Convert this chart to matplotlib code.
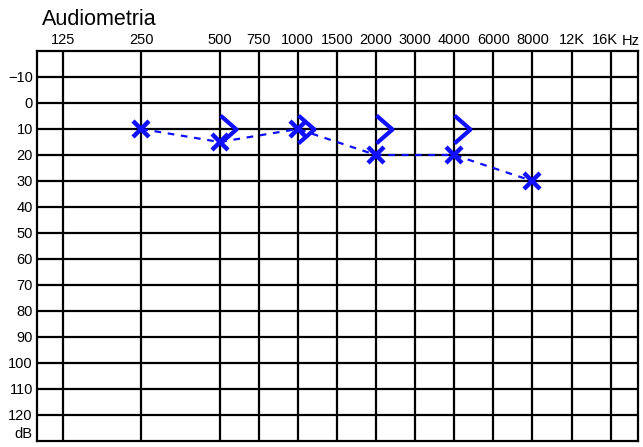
import numpy as np
import matplotlib
matplotlib.use("Agg")
import matplotlib.pyplot as plt
import matplotlib.transforms as mtransforms
from matplotlib.path import Path

plt.rcParams['font.family'] = ['Liberation Sans', 'DejaVu Sans']

# Audiogram data (left ear, blue)
freq_labels = ['125', '250', '500', '750', '1000', '1500', '2000',
               '3000', '4000', '6000', '8000', '12K', '16K']
freq_values = [125, 250, 500, 750, 1000, 1500, 2000,
               3000, 4000, 6000, 8000, 12000, 16000]
db_ticks = list(range(-10, 130, 10))

air_freqs = [250, 500, 1000, 2000, 4000, 8000]
air_db = [10, 15, 10, 20, 20, 30]

bone_freqs = [500, 1000, 2000, 4000]
bone_db = [10, 10, 10, 10]

# column layout of the audiogram form: octaves are two columns wide,
# half-octaves one column from 500 Hz up
col_pos = [0, 2, 4, 5, 6, 7, 8, 9, 10, 11, 12, 13, 14]


def fpos(freqs):
    return [col_pos[freq_values.index(f)] for f in freqs]


blue = '#1010ff'

fig = plt.figure(figsize=(6.43, 4.47), dpi=100)
ax = fig.add_axes([37 / 643, 1 - 441 / 447, 601 / 643, 390 / 447])

ax.set_xlim(-0.67, 14.7)
ax.set_ylim(130, -20)

# grid
ax.set_xticks(col_pos)
ax.set_xticklabels(freq_labels, fontsize=10.5)
ax.xaxis.tick_top()
ax.set_yticks(db_ticks)
ax.set_yticklabels([str(d).replace('-', '\u2212') for d in db_ticks], fontsize=10.5)
ax.tick_params(length=0, pad=3)
ax.grid(True, color='black', linewidth=1.6)
for s in ax.spines.values():
    s.set_linewidth(1.6)
ax.text(-0.008, 127.5, 'dB', transform=ax.get_yaxis_transform(),
        ha='right', va='center', fontsize=10.5)

# nudge the last label left so "Hz" fits after it
last = ax.get_xticklabels()[-1]
last.set_transform(last.get_transform() +
                   mtransforms.ScaledTranslation(-4 / 72, 0, fig.dpi_scale_trans))

# air conduction, dashed connection
ax.plot(fpos(air_freqs), air_db, color=blue, linestyle=(0, (3, 3)),
        linewidth=1.6, zorder=3)
ax.plot(fpos(air_freqs), air_db, linestyle='none', marker='x', markersize=12,
        markeredgewidth=3.2, color=blue, zorder=4, clip_on=False)

# bone conduction ">" drawn to the right of the frequency line
bracket = Path([(0, 0.87), (1, 0), (0, -0.87)],
               [Path.MOVETO, Path.LINETO, Path.LINETO])
ax.plot(fpos(bone_freqs), bone_db, linestyle='none', marker=bracket,
        markersize=23, markerfacecolor='none', markeredgecolor=blue,
        markeredgewidth=3.0, zorder=4)

fig.text(42 / 643, 1 - 25 / 447, 'Audiometria', fontsize=15.5, va='baseline')
fig.text(622 / 643, 1 - 41 / 447, 'Hz', fontsize=10.5, va='center', ha='left')

plt.savefig('out.png', dpi=100)
